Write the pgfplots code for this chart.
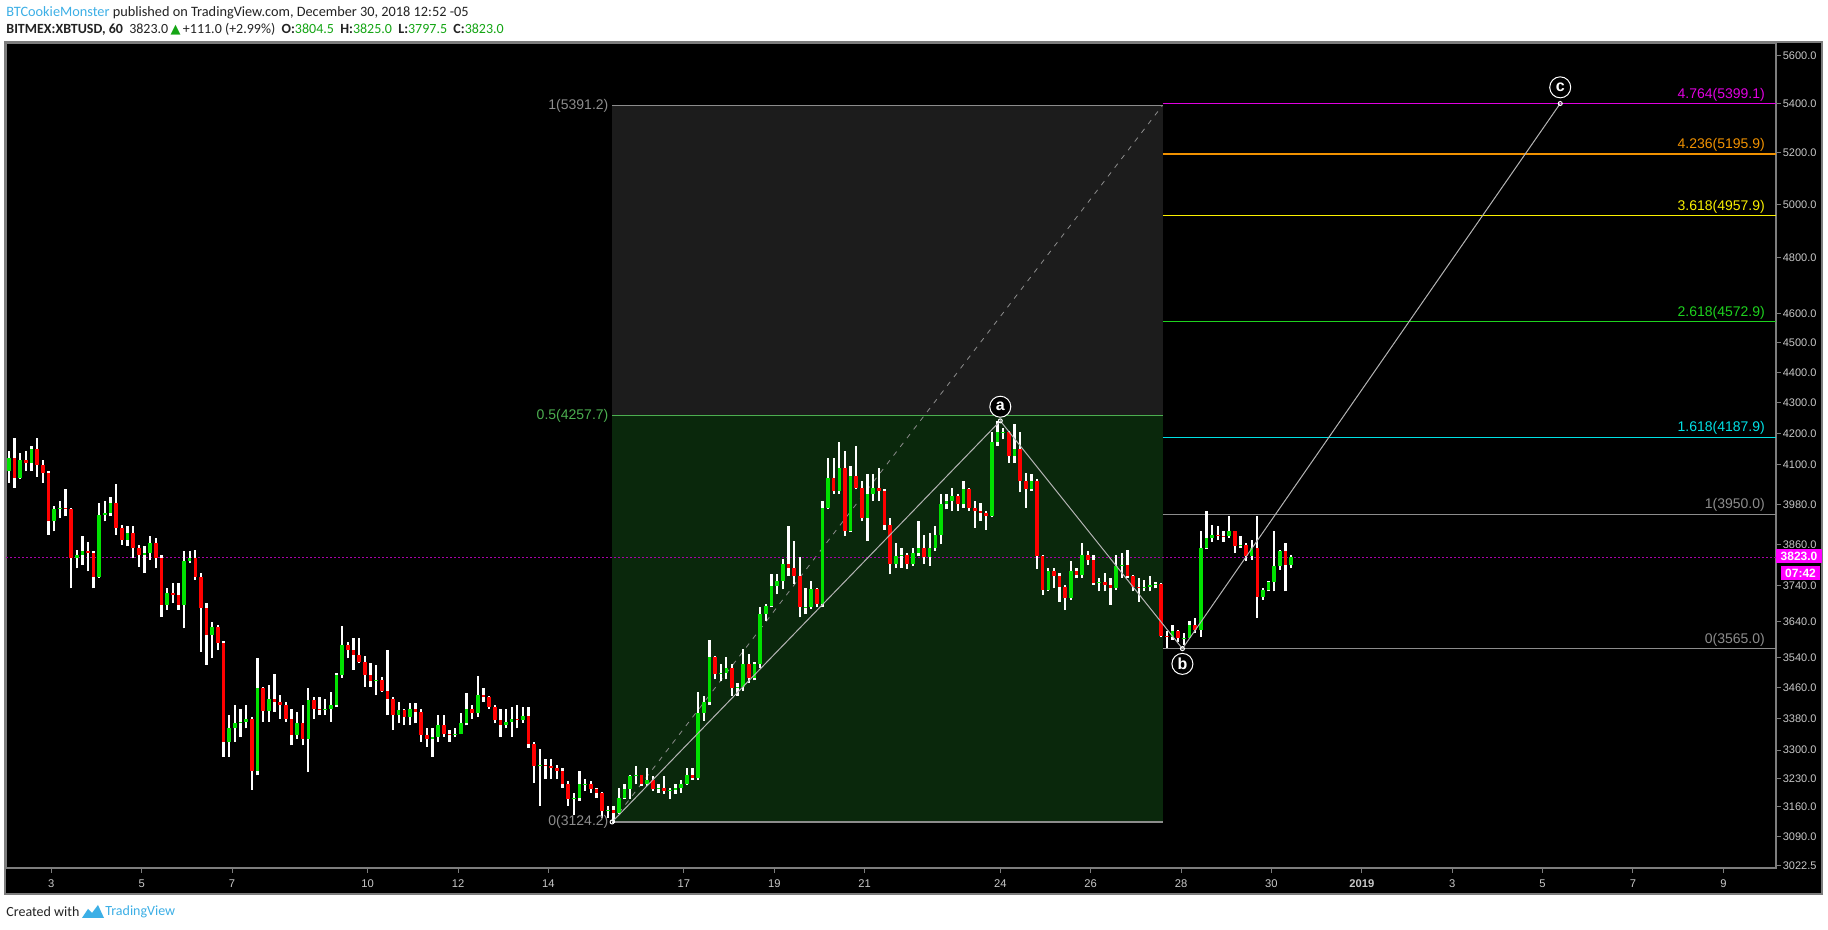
\documentclass[border=0pt]{standalone}
\usepackage{fontspec}
\setmainfont{Liberation Sans}
\newfontfamily\hdr{Carlito}
\newfontfamily\sym{DejaVu Sans}
\usepackage{pgfplots}
\pgfplotsset{compat=1.18}
\usepackage{pgfplotstable}

\definecolor{upc}{RGB}{0,225,0}
\definecolor{dnc}{RGB}{255,0,0}
\definecolor{fibgray}{RGB}{28,28,28}
\definecolor{fibgreen}{RGB}{10,40,12}
\definecolor{fibgline}{RGB}{76,175,80}
\definecolor{lvlgray}{RGB}{140,140,140}
\definecolor{lvlcyan}{RGB}{0,225,230}
\definecolor{lvlgreen}{RGB}{30,210,30}
\definecolor{lvlyellow}{RGB}{250,240,0}
\definecolor{lvlorange}{RGB}{240,145,0}
\definecolor{lvlmag}{RGB}{225,0,225}
\definecolor{pricemag}{RGB}{255,0,255}
\definecolor{dotmag}{RGB}{170,0,170}
\definecolor{axtext}{RGB}{200,200,200}
\definecolor{framec}{RGB}{125,125,125}
\definecolor{wavec}{RGB}{180,180,180}
\definecolor{tvblue}{RGB}{60,175,230}
\definecolor{hdrtext}{RGB}{35,35,35}
\definecolor{hdrgreen}{RGB}{20,165,20}

\pgfplotstableread{
t o h l c
2.0625 4081 4143 4045 4122
2.1875 4122 4186 4030 4061
2.3125 4061 4138 4055 4117
2.4375 4117 4143 4081 4107
2.5625 4107 4160 4081 4149
2.6875 4149 4186 4064 4101
2.8125 4101 4117 4045 4076
2.9375 4076 4081 3888 3928
3.0625 3928 3974 3898 3964
3.1875 3964 3989 3938 3969
3.3125 3969 4025 3943 3964
3.4375 3964 3969 3733 3819
3.5625 3819 3844 3790 3829
3.6875 3829 3883 3800 3839
3.8125 3839 3868 3781 3834
3.9375 3834 3840 3733 3766
4.0625 3766 3984 3762 3948
4.1875 3948 3989 3928 3954
4.3125 3954 4000 3943 3984
4.4375 3984 4040 3888 3908
4.5625 3908 3918 3859 3873
4.6875 3873 3913 3854 3893
4.8125 3893 3913 3819 3849
4.9375 3849 3859 3795 3829
5.0625 3829 3854 3776 3835
5.1875 3835 3883 3814 3863
5.3125 3863 3878 3790 3819
5.4375 3819 3829 3653 3686
5.5625 3686 3733 3672 3719
5.6875 3719 3747 3691 3714
5.8125 3714 3747 3672 3686
5.9375 3686 3839 3621 3810
6.0625 3810 3839 3805 3819
6.1875 3819 3844 3757 3766
6.3125 3766 3776 3557 3676
6.4375 3676 3691 3521 3602
6.5625 3602 3639 3539 3625
6.6875 3625 3630 3561 3580
6.8125 3580 3585 3283 3321
6.9375 3321 3389 3283 3355
7.0625 3355 3415 3321 3368
7.1875 3368 3406 3333 3372
7.3125 3372 3415 3355 3380
7.4375 3380 3385 3202 3249
7.5625 3249 3539 3237 3459
7.6875 3459 3464 3372 3400
7.8125 3400 3468 3372 3432
7.9375 3432 3497 3398 3424
8.0625 3424 3441 3380 3415
8.1875 3415 3424 3372 3380
8.3125 3380 3406 3312 3337
8.4375 3337 3398 3329 3368
8.5625 3368 3415 3312 3329
8.6875 3329 3459 3245 3428
8.8125 3428 3437 3380 3406
8.9375 3406 3437 3389 3402
9.0625 3402 3432 3389 3406
9.1875 3406 3450 3372 3415
9.3125 3415 3499 3410 3494
9.4375 3494 3628 3486 3575
9.5625 3575 3584 3539 3562
9.6875 3562 3595 3508 3548
9.8125 3548 3593 3526 3530
9.9375 3530 3544 3463 3494
10.0625 3494 3526 3463 3477
10.1875 3477 3521 3441 3480
10.3125 3480 3490 3450 3452
10.4375 3452 3561 3389 3432
10.5625 3432 3435 3351 3389
10.6875 3389 3424 3368 3402
10.8125 3402 3406 3363 3385
10.9375 3385 3420 3363 3406
11.0625 3406 3420 3368 3398
11.1875 3398 3406 3321 3337
11.3125 3337 3355 3308 3329
11.4375 3329 3355 3283 3333
11.5625 3333 3389 3321 3363
11.6875 3363 3389 3333 3342
11.8125 3342 3351 3321 3337
11.9375 3337 3355 3333 3342
12.0625 3342 3394 3340 3368
12.1875 3368 3446 3363 3406
12.3125 3406 3415 3380 3394
12.4375 3394 3491 3385 3441
12.5625 3441 3459 3424 3437
12.6875 3437 3440 3406 3411
12.8125 3411 3415 3368 3376
12.9375 3376 3406 3333 3363
13.0625 3363 3406 3355 3372
13.1875 3372 3411 3333 3380
13.3125 3380 3415 3355 3376
13.4375 3376 3409 3370 3387
13.5625 3387 3409 3306 3315
13.6875 3315 3320 3219 3260
13.8125 3260 3302 3163 3262
13.9375 3262 3277 3228 3260
14.0625 3260 3277 3228 3256
14.1875 3256 3264 3228 3248
14.3125 3248 3256 3207 3215
14.4375 3215 3224 3163 3179
14.5625 3179 3195 3140 3183
14.6875 3183 3248 3175 3215
14.8125 3215 3228 3199 3217
14.9375 3217 3224 3195 3203
15.0625 3203 3207 3183 3195
15.1875 3195 3197 3134 3150
15.3125 3150 3163 3134 3154
15.4375 3154 3163 3122 3146
15.5625 3146 3207 3142 3183
15.6875 3183 3215 3179 3203
15.8125 3203 3239 3179 3235
15.9375 3235 3260 3215 3237
16.0625 3237 3239 3211 3215
16.1875 3215 3256 3211 3227
16.3125 3227 3235 3199 3203
16.4375 3203 3215 3195 3207
16.5625 3207 3235 3191 3199
16.6875 3199 3207 3179 3201
16.8125 3201 3215 3191 3207
16.9375 3207 3227 3195 3215
17.0625 3215 3256 3213 3239
17.1875 3239 3256 3227 3231
17.3125 3231 3448 3227 3395
17.4375 3395 3439 3374 3422
17.5625 3422 3590 3415 3541
17.6875 3541 3545 3483 3496
17.8125 3496 3523 3478 3500
17.9375 3500 3541 3483 3514
18.0625 3514 3523 3439 3461
18.1875 3461 3474 3439 3463
18.3125 3463 3563 3452 3523
18.4375 3523 3550 3474 3487
18.5625 3487 3530 3480 3523
18.6875 3523 3679 3514 3660
18.8125 3660 3688 3642 3683
18.9375 3683 3773 3680 3740
19.0625 3740 3773 3716 3754
19.1875 3754 3817 3730 3802
19.3125 3802 3914 3768 3790
19.4375 3790 3870 3744 3768
19.5625 3768 3822 3651 3679
19.6875 3679 3735 3660 3681
19.8125 3681 3754 3675 3730
19.9375 3730 3735 3679 3688
20.0625 3688 3990 3679 3969
20.1875 3969 4122 3965 4061
20.3125 4061 4122 4010 4020
20.4375 4020 4171 4010 4092
20.5625 4092 4143 3884 3899
20.6875 3899 4097 3895 4066
20.8125 4066 4160 4025 4030
20.9375 4030 4050 3929 3939
21.0625 3939 4071 3870 4010
21.1875 4010 4071 3989 4030
21.3125 4030 4092 3989 4020
21.4375 4020 4025 3904 3919
21.5625 3919 3939 3773 3802
21.6875 3802 3865 3792 3826
21.8125 3826 3850 3792 3828
21.9375 3828 3836 3788 3802
22.0625 3802 3850 3797 3836
22.1875 3836 3929 3826 3850
22.3125 3850 3889 3802 3822
22.4375 3822 3894 3797 3850
22.5625 3850 3914 3841 3889
22.6875 3889 4010 3860 3979
22.8125 3979 4010 3964 3989
22.9375 3989 4030 3959 4005
23.0625 4005 4010 3959 3979
23.1875 3979 4050 3969 4025
23.3125 4025 4028 3959 3969
23.4375 3969 3989 3909 3959
23.5625 3959 3984 3929 3954
23.6875 3954 3959 3904 3944
23.8125 3944 4203 3940 4171
23.9375 4171 4240 4160 4203
24.0625 4203 4218 4181 4205
24.1875 4205 4208 4106 4127
24.3125 4127 4229 4106 4150
24.4375 4150 4203 4015 4050
24.5625 4050 4076 3969 4025
24.6875 4025 4071 4020 4050
24.8125 4050 4055 3788 3826
24.9375 3826 3830 3714 3729
25.0625 3729 3790 3725 3781
25.1875 3781 3790 3733 3767
25.3125 3767 3776 3695 3738
25.4375 3738 3743 3671 3705
25.5625 3705 3810 3700 3781
25.6875 3781 3790 3762 3771
25.8125 3771 3863 3762 3830
25.9375 3830 3839 3800 3815
26.0625 3815 3830 3743 3748
26.1875 3748 3762 3724 3752
26.3125 3752 3776 3724 3743
26.4375 3743 3762 3686 3733
26.5625 3733 3830 3728 3796
26.6875 3796 3834 3762 3800
26.8125 3800 3844 3762 3767
26.9375 3767 3770 3724 3738
27.0625 3738 3762 3695 3733
27.1875 3733 3757 3724 3738
27.3125 3738 3767 3724 3743
27.4375 3743 3752 3733 3745
27.5625 3745 3748 3597 3601
27.6875 3601 3612 3566 3597
27.8125 3597 3630 3589 3612
27.9375 3612 3615 3584 3593
28.0625 3593 3607 3575 3595
28.1875 3595 3640 3593 3630
28.3125 3630 3649 3607 3617
28.4375 3617 3898 3597 3849
28.5625 3849 3959 3845 3878
28.6875 3878 3918 3868 3888
28.8125 3888 3913 3873 3886
28.9375 3886 3898 3868 3883
29.0625 3883 3943 3878 3898
29.1875 3898 3900 3834 3854
29.3125 3854 3883 3849 3858
29.4375 3858 3863 3810 3825
29.5625 3825 3873 3815 3849
29.6875 3849 3943 3649 3709
29.8125 3709 3733 3700 3729
29.9375 3729 3755 3724 3752
30.0625 3752 3898 3724 3796
30.1875 3796 3844 3786 3839
30.3125 3839 3863 3724 3800
30.4375 3800 3830 3790 3823
}\candles

\begin{document}
\begin{tikzpicture}
\fill[white] (0,0) rectangle (914pt,465pt);
\fill[black] (2.5pt,18pt) rectangle (911pt,444pt);
\draw[framec, line width=0.8pt] (2.5pt,18pt) rectangle (911pt,444pt);

% header
\node[anchor=west, inner sep=0pt, font=\hdr\fontsize{7.15}{8}\selectfont] at (3pt,458.5pt)
  {\textcolor{tvblue}{BTCookieMonster} \textcolor{hdrtext}{published on TradingView.com, December 30, 2018 12:52 -05}};
\node[anchor=west, inner sep=0pt, font=\hdr\fontsize{7}{8}\selectfont, text=hdrtext] at (3pt,450.5pt)
  {\textbf{BITMEX:XBTUSD, 60}\ \ 3823.0\,{\sym\fontsize{6.5}{7}\selectfont\textcolor{hdrgreen}{▲}}\,+111.0 (+2.99\%)\ \ \textbf{O:}\textcolor{hdrgreen}{3804.5}\ \ \textbf{H:}\textcolor{hdrgreen}{3825.0}\ \ \textbf{L:}\textcolor{hdrgreen}{3797.5}\ \ \textbf{C:}\textcolor{hdrgreen}{3823.0}};

% footer
\node[anchor=west, inner sep=0pt, font=\hdr\fontsize{7}{8}\selectfont, text=hdrtext] at (3pt,9pt) {Created with};
\fill[tvblue] (41pt,6pt) -- (44pt,10.5pt) -- (46pt,8.5pt) -- (49pt,12.5pt) -- (52pt,6pt) -- cycle;
\node[anchor=west, inner sep=0pt, font=\hdr\fontsize{7}{8}\selectfont, text=tvblue] at (52.5pt,9pt) {TradingView};

\begin{axis}[
  at={(3pt,31pt)}, anchor=south west,
  scale only axis, width=885pt, height=412.5pt,
  xmin=1.998, xmax=41.165,
  ymode=log, ymin=3017, ymax=5654.6,
  axis background/.style={fill=black},
  axis line style={draw=framec, line width=0.7pt},
  clip=false,
  xtick={3,5,7,10,12,14,17,19,21,24,26,28,30,32,34,36,38,40},
  xticklabels={3,5,7,10,12,14,17,19,21,24,26,28,30,\textbf{2019},3,5,7,9},
  ytick={3022.5,3090,3160,3230,3300,3380,3460,3540,3640,3740,3860,3980,4100,4200,4300,4400,4500,4600,4800,5000,5200,5400,5600},
  yticklabels={3022.5,3090.0,3160.0,3230.0,3300.0,3380.0,3460.0,3540.0,3640.0,3740.0,3860.0,3980.0,4100.0,4200.0,4300.0,4400.0,4500.0,4600.0,4800.0,5000.0,5200.0,5400.0,5600.0},
  xtick pos=bottom, ytick pos=right, yticklabel pos=right,
  minor tick num=0,
  tick align=outside, major tick length=2.5pt,
  tick style={framec, line width=0.5pt},
  xticklabel style={font=\fontsize{5.6}{6.5}\selectfont, text=axtext},
  yticklabel style={font=\fontsize{5.5}{6.5}\selectfont, text=axtext, anchor=west, xshift=-2.6pt},
  /pgf/number format/assume math mode=true,
]
% fib retracement box
\addplot[fill=fibgray, draw=none, forget plot] coordinates {(15.41,4257.7) (27.59,4257.7) (27.59,5391.2) (15.41,5391.2)} -- cycle;
\addplot[fill=fibgreen, draw=none, forget plot] coordinates {(15.41,3124.2) (27.59,3124.2) (27.59,4257.7) (15.41,4257.7)} -- cycle;
\addplot[lvlgray, line width=0.6pt, forget plot] coordinates {(15.41,5391.2) (27.59,5391.2)};
\addplot[fibgline, line width=0.6pt, forget plot] coordinates {(15.41,4257.7) (27.59,4257.7)};
\addplot[lvlgray, line width=0.6pt, forget plot] coordinates {(15.41,3124.2) (27.59,3124.2)};
\addplot[lvlgray, dash pattern=on 2.5pt off 3pt, line width=0.4pt, forget plot] coordinates {(15.41,3124.2) (27.59,5391.2)};

% fib extension levels
\addplot[lvlgray, line width=0.6pt, forget plot] coordinates {(27.6,3565.0) (41.165,3565.0)};
\addplot[lvlgray, line width=0.6pt, forget plot] coordinates {(27.6,3950.0) (41.165,3950.0)};
\addplot[lvlcyan, line width=0.6pt, forget plot] coordinates {(27.6,4187.9) (41.165,4187.9)};
\addplot[lvlgreen, line width=0.6pt, forget plot] coordinates {(27.6,4572.9) (41.165,4572.9)};
\addplot[lvlyellow, line width=0.6pt, forget plot] coordinates {(27.6,4957.9) (41.165,4957.9)};
\addplot[lvlorange, line width=0.6pt, forget plot] coordinates {(27.6,5195.9) (41.165,5195.9)};
\addplot[lvlmag, line width=0.6pt, forget plot] coordinates {(27.6,5399.1) (41.165,5399.1)};

% current price line
\addplot[dotmag, line width=0.5pt, dash pattern=on 1pt off 1pt, forget plot] coordinates {(1.998,3823) (41.165,3823)};

% candles: wicks
\addplot[draw=none, mark=none, forget plot,
  error bars/.cd, y dir=plus, y explicit, error mark=none,
  error bar style={draw=white, line width=1.15pt}]
  table[x=t, y=l, y error expr=\thisrow{h}-\thisrow{l}] {\candles};
% up bodies
\addplot[draw=none, mark=none, forget plot,
  error bars/.cd, y dir=plus, y explicit, error mark=none,
  error bar style={draw=upc, line width=1.8pt}]
  table[x=t, y=o, y error expr={max(\thisrow{c}-\thisrow{o},0)}] {\candles};
% down bodies
\addplot[draw=none, mark=none, forget plot,
  error bars/.cd, y dir=plus, y explicit, error mark=none,
  error bar style={draw=dnc, line width=1.8pt}]
  table[x=t, y=c, y error expr={max(\thisrow{o}-\thisrow{c},0)}] {\candles};

% wave lines
\addplot[wavec, line width=0.5pt, mark=o, mark size=1pt, mark options={white, solid}, forget plot]
  coordinates {(15.41,3124.2) (24.0,4240) (28.03,3565) (36.39,5399.1)};

% labels of levels
\node[anchor=east, inner sep=1pt, text=lvlgray, font=\fontsize{7}{8}\selectfont] at (axis cs:15.38,5391.2) {1(5391.2)};
\node[anchor=east, inner sep=1pt, text=fibgline, font=\fontsize{7}{8}\selectfont] at (axis cs:15.38,4257.7) {0.5(4257.7)};
\node[anchor=east, inner sep=1pt, text=lvlgray, font=\fontsize{7}{8}\selectfont] at (axis cs:15.38,3124.2) {0(3124.2)};

\node[anchor=south east, inner sep=1pt, text=lvlgray, font=\fontsize{7}{8}\selectfont] at (axis cs:40.97,3565.0) {0(3565.0)};
\node[anchor=south east, inner sep=1pt, text=lvlgray, font=\fontsize{7}{8}\selectfont] at (axis cs:40.97,3950.0) {1(3950.0)};
\node[anchor=south east, inner sep=1pt, text=lvlcyan, font=\fontsize{7}{8}\selectfont] at (axis cs:40.97,4187.9) {1.618(4187.9)};
\node[anchor=south east, inner sep=1pt, text=lvlgreen, font=\fontsize{7}{8}\selectfont] at (axis cs:40.97,4572.9) {2.618(4572.9)};
\node[anchor=south east, inner sep=1pt, text=lvlyellow, font=\fontsize{7}{8}\selectfont] at (axis cs:40.97,4957.9) {3.618(4957.9)};
\node[anchor=south east, inner sep=1pt, text=lvlorange, font=\fontsize{7}{8}\selectfont] at (axis cs:40.97,5195.9) {4.236(5195.9)};
\node[anchor=south east, inner sep=1pt, text=lvlmag, font=\fontsize{7}{8}\selectfont] at (axis cs:40.97,5399.1) {4.764(5399.1)};

% wave labels
\node[circle, draw=white, line width=0.5pt, fill=black, text=white, inner sep=0pt, minimum size=10.5pt, font=\bfseries\fontsize{8}{8}\selectfont] at (axis cs:24.0,4286) {a};
\node[circle, draw=white, line width=0.5pt, fill=black, text=white, inner sep=0pt, minimum size=10.5pt, font=\bfseries\fontsize{8}{8}\selectfont] at (axis cs:28.03,3524) {b};
\node[circle, draw=white, line width=0.5pt, fill=black, text=white, inner sep=0pt, minimum size=10.5pt, font=\bfseries\fontsize{8}{8}\selectfont] at (axis cs:36.39,5466) {c};
\end{axis}

% price marker boxes on the price scale
\fill[pricemag] (888pt,183.5pt) rectangle (911pt,190.5pt);
\node[text=white, inner sep=0pt, font=\bfseries\fontsize{6}{7}\selectfont] at (899.5pt,187pt) {3823.0};
\fill[pricemag] (890.5pt,175pt) rectangle (910pt,182pt);
\node[text=white, inner sep=0pt, font=\bfseries\fontsize{6}{7}\selectfont] at (900.25pt,178.5pt) {07:42};
\end{tikzpicture}
\end{document}
